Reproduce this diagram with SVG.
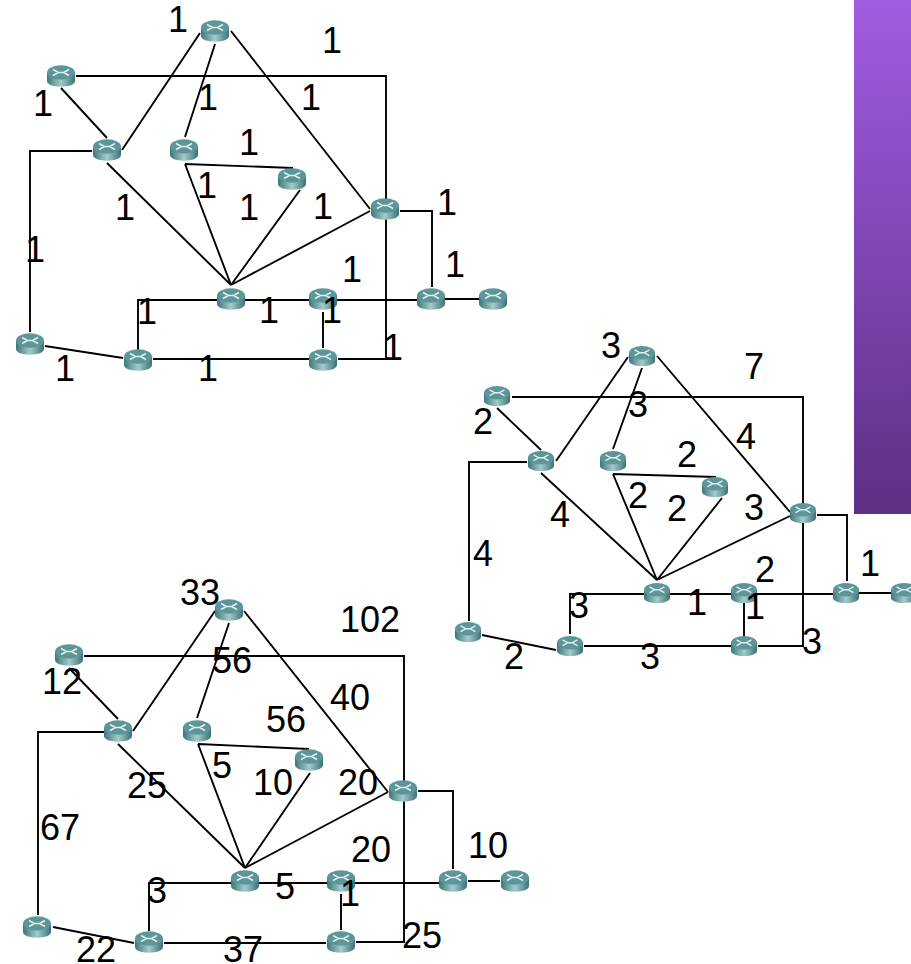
<svg xmlns="http://www.w3.org/2000/svg" width="911" height="964" viewBox="0 0 911 964">
<style>
.c{fill:none;stroke:#000;stroke-width:1.9;stroke-linejoin:miter}
text{font-family:"Liberation Sans",Arial,sans-serif;font-size:36px;fill:#000;text-anchor:middle}
</style>
<defs>
<linearGradient id="p" x1="0" y1="0" x2="0" y2="1"><stop offset="0" stop-color="#a25ce2"/><stop offset="1" stop-color="#5e2f84"/></linearGradient>
<linearGradient id="b" x1="0" y1="0" x2="1" y2="0"><stop offset="0" stop-color="#3f7678"/><stop offset=".5" stop-color="#a3cbcb"/><stop offset="1" stop-color="#3b7274"/></linearGradient>
<g id="r">
<path d="M-14-3.500V5C-14 8.500-8 10.700 0 10.700S14 8.500 14 5V-3.500Z" fill="url(#b)"/>
<ellipse cx="0" cy="-3.500" rx="14" ry="7.200" fill="#5d9699"/>
<path d="M-8-6.500L-2.500-3.500-8-.5M8-6.500L2.500-3.500 8-.5M-3-3.500H3" fill="none" stroke="#e4f0f0" stroke-width="1.500"/>
</g>
<g id="s"><use href="#r" transform="scale(.93)"/></g>
</defs>
<rect id="banner" x="854" y="0" width="57" height="514" fill="url(#p)"/>
<g id="connectors">
<path class="c" d="M200 33L122 150M215 44L185 137M231 31L370 209M76 76H386V359H338M61 88L107 138M92 151H30V332M107 163L231 285M185 164L293 168M185 164L231 285M300 190L231 285M370 211L231 285M400 211H432V287M218 300H138V350M244 300H310M336 300H418M445 299H480M323 312V348M45 346L123 358M153 359H309"/>
<path class="c" d="M628 357L556 461M642 368L613 449M657 356L790 512M512 397H803V646H758M497 408L541 450M527 462H469V621M541 473L657 580M613 474L716 477M613 474L657 580M722 498L657 580M790 516L657 580M817 515H847V581M644 594H570V634M670 594H731M757 594H833M859 593H891M744 603V636M482 635L556 650M584 646H731"/>
<path class="c" d="M215 611L133 731M229 623L197 718M244 611L388 792M84 656H404V942H356M69 668L118 719M104 732H38V915M118 744L245 868M198 744L309 749M198 744L245 868M310 773L245 868M388 792L245 868M418 791H453V869M231 883H149V931M259 883H328M354 883H439M468 881H500M341 894V930M53 927L134 943M164 943H326"/>
</g>
<g id="net1">
<use id="n1a" href="#r" x="215" y="31"/><use id="n1b" href="#r" x="61" y="76"/><use id="n1c" href="#r" x="107" y="150"/><use id="n1d" href="#r" x="184" y="150"/><use id="n1e" href="#r" x="292" y="179"/><use id="n1f" href="#r" x="385" y="209"/><use id="n1g" href="#r" x="231" y="299"/><use id="n1h" href="#r" x="323" y="299"/><use id="n1i" href="#r" x="431" y="299"/><use id="n1j" href="#r" x="493" y="299"/><use id="n1k" href="#r" x="30" y="344"/><use id="n1l" href="#r" x="138" y="360"/><use id="n1m" href="#r" x="323" y="360"/>
</g>
<g id="net2">
<use id="n2a" href="#s" x="642" y="356"/><use id="n2b" href="#s" x="497" y="396"/><use id="n2c" href="#s" x="541" y="461"/><use id="n2d" href="#s" x="613" y="461"/><use id="n2e" href="#s" x="715" y="487"/><use id="n2f" href="#s" x="803" y="513"/><use id="n2g" href="#s" x="657" y="593"/><use id="n2h" href="#s" x="744" y="593"/><use id="n2i" href="#s" x="846" y="593"/><use id="n2j" href="#s" x="904" y="593"/><use id="n2k" href="#s" x="468" y="632"/><use id="n2l" href="#s" x="570" y="646"/><use id="n2m" href="#s" x="744" y="646"/>
</g>
<g id="net3">
<use id="n3a" href="#r" x="229" y="610"/><use id="n3b" href="#r" x="69" y="655"/><use id="n3c" href="#r" x="118" y="731"/><use id="n3d" href="#r" x="197" y="731"/><use id="n3e" href="#r" x="309" y="760"/><use id="n3f" href="#r" x="403" y="791"/><use id="n3g" href="#r" x="245" y="881"/><use id="n3h" href="#r" x="341" y="881"/><use id="n3i" href="#r" x="453" y="881"/><use id="n3j" href="#r" x="515" y="881"/><use id="n3k" href="#r" x="37" y="927"/><use id="n3l" href="#r" x="149" y="942"/><use id="n3m" href="#r" x="341" y="942"/>
</g>
<g id="labels">
<text x="178" y="32">1</text><text x="332" y="53">1</text><text x="43" y="116">1</text><text x="208" y="110">1</text><text x="311" y="110">1</text><text x="249" y="155">1</text><text x="207" y="198">1</text><text x="125" y="220">1</text><text x="249" y="220">1</text><text x="323" y="219">1</text><text x="447" y="215">1</text><text x="35" y="262">1</text><text x="352" y="282">1</text><text x="455" y="277">1</text><text x="147" y="324">1</text><text x="269" y="323">1</text><text x="332" y="323">1</text><text x="65" y="381">1</text><text x="208" y="381">1</text><text x="393" y="360">1</text>
<text x="611" y="358">3</text><text x="754" y="379">7</text><text x="638" y="417">3</text><text x="746" y="449">4</text><text x="483" y="434">2</text><text x="687" y="467">2</text><text x="638" y="508">2</text><text x="677" y="521">2</text><text x="754" y="520">3</text><text x="560" y="527">4</text><text x="483" y="566">4</text><text x="765" y="582">2</text><text x="870" y="576">1</text><text x="579" y="618">3</text><text x="697" y="615">1</text><text x="755" y="619">1</text><text x="812" y="654">3</text><text x="514" y="669">2</text><text x="650" y="669">3</text>
<text x="200" y="605">33</text><text x="370" y="632">102</text><text x="232" y="673">56</text><text x="62" y="694">12</text><text x="350" y="710">40</text><text x="286" y="732">56</text><text x="222" y="778">5</text><text x="273" y="795">10</text><text x="358" y="795">20</text><text x="147" y="798">25</text><text x="60" y="840">67</text><text x="371" y="862">20</text><text x="488" y="858">10</text><text x="157" y="903">3</text><text x="285" y="899">5</text><text x="350" y="906">1</text><text x="422" y="948">25</text><text x="96" y="962">22</text><text x="243" y="962">37</text>
</g>
</svg>
